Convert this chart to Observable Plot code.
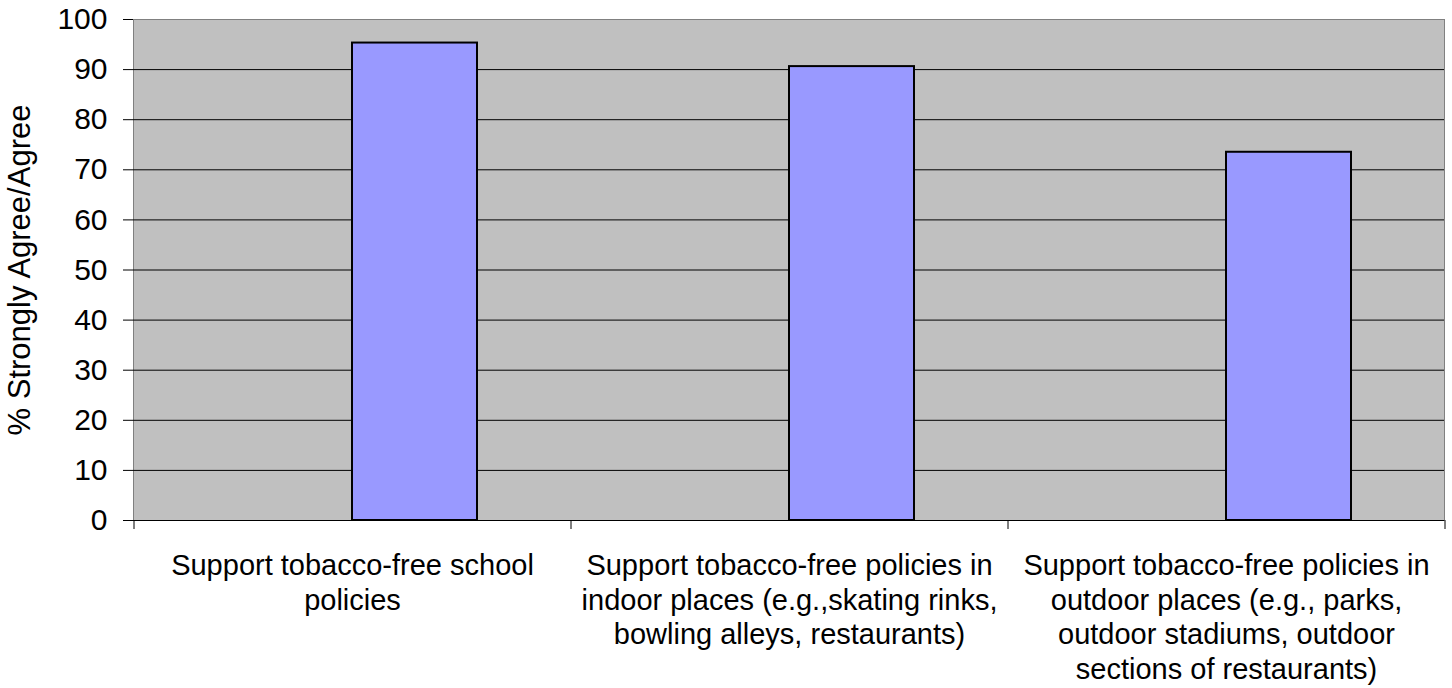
<!DOCTYPE html>
<html><head><meta charset="utf-8">
<script src="https://cdn.jsdelivr.net/npm/d3@7"></script>
<script src="https://cdn.jsdelivr.net/npm/@observablehq/plot@0.6"></script>
<style>body{margin:0;background:#fff}</style>
</head><body><div id="chart"></div>
<script>
const categories = [
  "Support tobacco-free school policies",
  "Support tobacco-free policies in indoor places (e.g.,skating rinks, bowling alleys, restaurants)",
  "Support tobacco-free policies in outdoor places (e.g., parks, outdoor stadiums, outdoor sections of restaurants)"
];
const values = [95.3, 90.6, 73.5];
const tickLabels = [
  ["Support tobacco-free school", "policies"],
  ["Support tobacco-free policies in", "indoor places (e.g.,skating rinks,", "bowling alleys, restaurants)"],
  ["Support tobacco-free policies in", "outdoor places (e.g., parks,", "outdoor stadiums, outdoor", "sections of restaurants)"]
];
const yTicks = [0, 10, 20, 30, 40, 50, 60, 70, 80, 90, 100];
const yLabel = "% Strongly Agree/Agree";

const data = categories.map((c, i) => ({category: c, value: values[i]}));
const W = 1452, H = 688, mL = 133, mR = 8, mT = 19, mB = 168;
const pInner = 0.714;
const step = (W - mL - mR) / categories.length;
const bw = step * (1 - pInner);

const chart = Plot.plot({
  width: W, height: H,
  marginLeft: mL, marginRight: mR, marginTop: mT, marginBottom: mB,
  style: {fontFamily: "'Liberation Sans', Arial, sans-serif", fontSize: "29px", color: "#000", background: "#fff"},
  x: {domain: categories, paddingInner: pInner, paddingOuter: pInner / 2, align: 0.5 / pInner, label: null},
  y: {domain: [0, 100], ticks: yTicks, label: yLabel},
  marks: [
    Plot.frame({fill: "#C0C0C0", stroke: "#808080"}),
    Plot.ruleY(yTicks.filter(t => t > 0 && t < 100), {stroke: "#000", strokeWidth: 1}),
    Plot.barY(data, {x: "category", y: "value", fill: "#9999FF", stroke: "#000", strokeWidth: 2}),
    Plot.ruleY([0], {stroke: "#000"}),
    Plot.ruleX(categories, {x: d => d, y1: 0, y2: 0, dx: -(step + bw) / 2, insetBottom: -9, stroke: "#000"}),
    Plot.ruleX([categories[categories.length - 1]], {x: d => d, y1: 0, y2: 0, dx: (step - bw) / 2, insetBottom: -9, stroke: "#000"}),
    Plot.axisY({ticks: yTicks, tickSize: 10, tickPadding: 16, fontSize: 30, label: null}),
    Plot.axisY({ticks: [], tickSize: 0, label: yLabel, labelAnchor: "center", labelArrow: "none", labelOffset: 126, fontSize: 31}),
    Plot.axisX({tickSize: 0, tickPadding: 30, dx: -bw / 2, tickFormat: d => tickLabels[categories.indexOf(d)].join("\n"), lineHeight: 1.19, fontSize: 29, label: null})
  ]
});
document.getElementById("chart").append(chart);
</script>
</body></html>
